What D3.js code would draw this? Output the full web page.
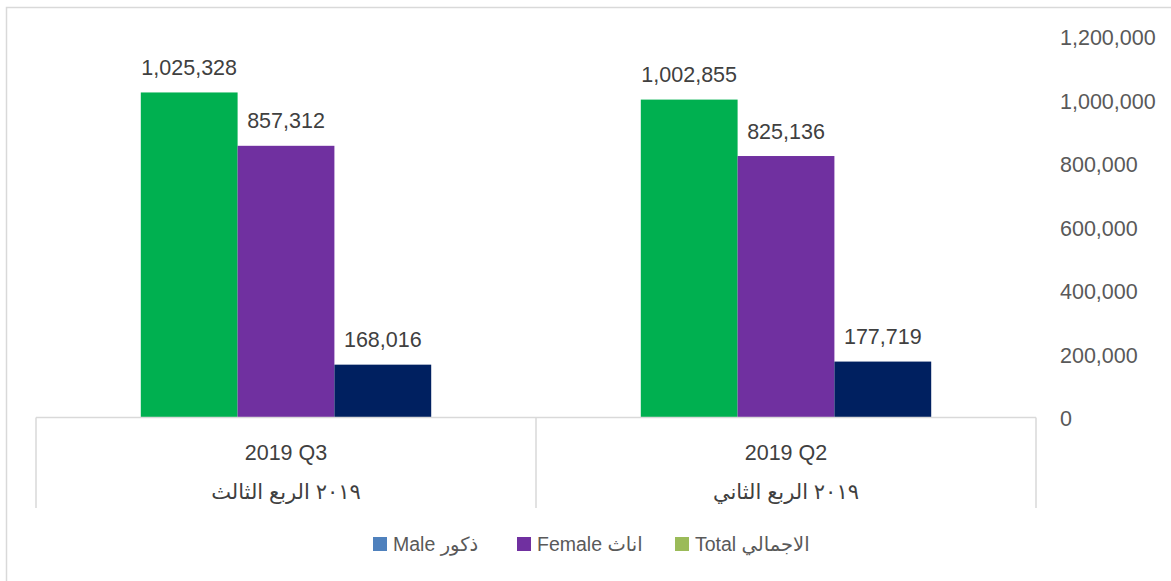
<!DOCTYPE html>
<html lang="en">
<head>
<meta charset="utf-8">
<title>Quarterly chart</title>
<script src="https://d3js.org/d3.v7.min.js"></script>
<style>
  body { margin: 0; background: #fff; }
  text { font-family: "Liberation Sans", Arial, "DejaVu Sans", sans-serif; }
</style>
</head>
<body>
<script>
// data
var quarters = ["2019 Q2", "2019 Q3"];
var quartersAr = ["٢٠١٩ الربع الثاني", "٢٠١٩ الربع الثالث"];
var series = ["Total", "Female", "Male"];
var totalVals = [1002855, 1025328];
var femaleVals = [825136, 857312];
var maleVals = [177719, 168016];
var yTicks = [0, 200000, 400000, 600000, 800000, 1000000, 1200000];
var legendLabels = ["Male ذكور", "Female اناث", "Total الاجمالي"];

var w = 1171, h = 581;
var barColor = {Total: "#00B050", Female: "#7030A0", Male: "#002060"};
var legendColor = ["#4F81BD", "#7030A0", "#9BBB59"];
var vals = {Total: totalVals, Female: femaleVals, Male: maleVals};

var svg = d3.select("body").append("svg")
    .attr("width", w)
    .attr("height", h);

// outer chart border (runs off right/bottom edge)
svg.append("rect")
    .attr("x", 6.5).attr("y", 7.5)
    .attr("width", w).attr("height", h)
    .attr("fill", "none")
    .attr("stroke", "#D9D9D9")
    .attr("stroke-width", 1.5);

// x is reversed: right-to-left
var x0 = d3.scaleBand().domain(quarters).range([1036, 36]);
var x1 = d3.scaleBand().domain(series).range([0, x0.bandwidth()]).paddingOuter(1.0825);
var y = d3.scaleLinear().domain([0, 1200000]).range([418, 37]);

// y axis labels on the right
var yAxis = d3.axisRight(y).tickValues(yTicks).tickSize(0).tickPadding(0)
    .tickFormat(d3.format(","));
var ya = svg.append("g").attr("transform", "translate(1060,0)").call(yAxis);
ya.select(".domain").remove();
ya.selectAll("text")
    .attr("fill", "#595959")
    .style("font-size", "21.5px")
    .attr("dy", "0.35em");

// bars
var rows = [];
quarters.forEach(function(q, i) {
    series.forEach(function(s) {
        rows.push({q: q, s: s, v: vals[s][i]});
    });
});

svg.append("g").selectAll("rect")
    .data(rows)
    .join("rect")
    .attr("x", d => x0(d.q) + x1(d.s))
    .attr("y", d => y(d.v))
    .attr("width", x1.bandwidth())
    .attr("height", d => y(0) - y(d.v))
    .attr("fill", d => barColor[d.s]);

svg.append("g").selectAll("text")
    .data(rows)
    .join("text")
    .attr("x", d => x0(d.q) + x1(d.s) + x1.bandwidth() / 2)
    .attr("y", d => y(d.v) - 25)
    .attr("text-anchor", "middle")
    .attr("dy", "0.35em")
    .attr("fill", "#404040")
    .style("font-size", "21.5px")
    .text(d => d3.format(",")(d.v));

// category axis with box lines
var grid = svg.append("g").attr("stroke", "#D9D9D9").attr("stroke-width", 1.5);
grid.append("line")
    .attr("x1", 36).attr("x2", 1036)
    .attr("y1", 417.5).attr("y2", 417.5);
var edges = [36, 1036].concat(quarters.map(q => x0(q)));
grid.selectAll(".sep")
    .data(d3.sort(Array.from(new Set(edges))))
    .join("line")
    .attr("x1", d => d).attr("x2", d => d)
    .attr("y1", 417.5).attr("y2", 508);

svg.append("g").selectAll("text")
    .data(quarters)
    .join("text")
    .attr("x", d => x0(d) + x0.bandwidth() / 2)
    .attr("y", 452)
    .attr("dy", "0.35em")
    .attr("text-anchor", "middle")
    .attr("fill", "#404040")
    .style("font-size", "21.5px")
    .text(d => d);

svg.append("g").selectAll("text")
    .data(quarters)
    .join("text")
    .attr("x", d => x0(d) + x0.bandwidth() / 2)
    .attr("y", 492)
    .attr("dy", "0.35em")
    .attr("text-anchor", "middle")
    .attr("fill", "#404040")
    .style("font-size", "21px")
    .text((d, i) => quartersAr[i]);

// legend
var legendX = [373, 517, 675];
var lg = svg.append("g").selectAll("g")
    .data(legendLabels)
    .join("g")
    .attr("transform", (d, i) => "translate(" + legendX[i] + ",537)");
lg.append("rect")
    .attr("width", 14).attr("height", 14)
    .attr("fill", (d, i) => legendColor[i]);
lg.append("text")
    .attr("x", 20).attr("y", 7)
    .attr("dy", "0.35em")
    .attr("fill", "#595959")
    .style("font-size", "19.5px")
    .text(d => d);
</script>
</body>
</html>
